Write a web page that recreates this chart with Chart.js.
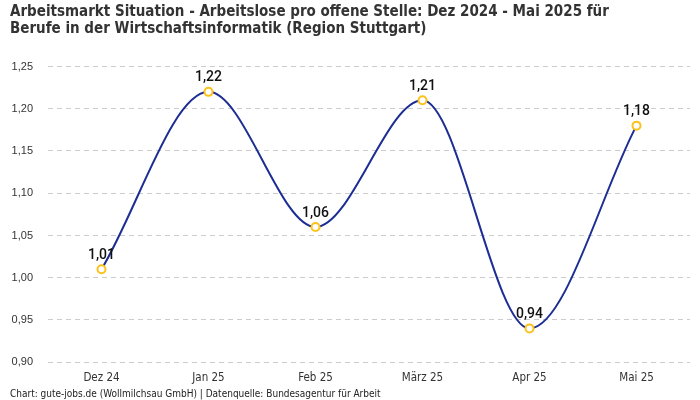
<!DOCTYPE html>
<html>
<head>
<meta charset="utf-8">
<script src="https://cdn.jsdelivr.net/npm/chart.js@4.4.1/dist/chart.umd.min.js"></script>
<style>
	html, body { margin: 0; padding: 0; background: #fff; }
	#wrap { width: 700px; height: 400px; }
</style>
</head>
<body>
<div id="wrap"><canvas id="chart"></canvas></div>
<script>
var months = ['Dez 24', 'Jan 25', 'Feb 25', 'März 25', 'Apr 25', 'Mai 25'];
var ratio = [1.01, 1.22, 1.06, 1.21, 0.94, 1.18];
var titleLines = [
	'Arbeitsmarkt Situation - Arbeitslose pro offene Stelle: Dez 2024 - Mai 2025 für',
	'Berufe in der Wirtschaftsinformatik (Region Stuttgart)'
];
var sourceText = 'Chart: gute-jobs.de (Wollmilchsau GmbH) | Datenquelle: Bundesagentur für Arbeit';

var condensed = '"DejaVu Sans Condensed", sans-serif';

function de(v) {
	return v.toFixed(2).replace('.', ',');
}

// draw the value above every point
var valueLabels = {
	id: 'valueLabels',
	afterDatasetsDraw: function(chart) {
		var ctx = chart.ctx;
		var meta = chart.getDatasetMeta(0);
		ctx.save();
		ctx.font = '500 14px "Roboto", sans-serif';
		ctx.fillStyle = '#111';
		ctx.textAlign = 'center';
		ctx.textBaseline = 'bottom';
		meta.data.forEach(function(pt, i) {
			ctx.fillText(de(ratio[i]), pt.x, pt.y - 7);
		});
		ctx.restore();
	}
};

new Chart(document.getElementById('chart'), {
	type: 'line',
	data: {
		labels: months,
		datasets: [{
			data: ratio,
			borderColor: '#1c2d94',
			borderWidth: 2,
			cubicInterpolationMode: 'monotone',
			pointRadius: 4,
			pointBorderWidth: 2,
			pointBorderColor: '#fcc21b',
			pointBackgroundColor: '#ffffff',
			clip: false
		}]
	},
	options: {
		responsive: true,
		maintainAspectRatio: false,
		animation: false,
		layout: { padding: { left: 10, right: 10, top: 3, bottom: 0 } },
		plugins: {
			legend: { display: false },
			tooltip: { enabled: false },
			title: {
				display: true,
				text: titleLines,
				align: 'start',
				color: '#333',
				font: { family: condensed, size: 15, weight: 'bold', lineHeight: 1.15 },
				padding: { top: 0, bottom: 29 }
			},
			subtitle: {
				display: true,
				position: 'bottom',
				text: sourceText,
				align: 'start',
				color: '#222',
				font: { family: condensed, size: 10 },
				padding: { top: 2, bottom: 0 }
			}
		},
		scales: {
			x: {
				offset: true,
				grid: { display: false },
				border: { display: false },
				ticks: { color: '#333', font: { family: condensed, size: 11.5 }, padding: 1 }
			},
			y: {
				min: 0.9,
				max: 1.25,
				afterFit: function(scale) { scale.width = 38; },
				grid: { color: '#cccccc', tickLength: 0 },
				border: { display: false, dash: [5, 4] },
				ticks: {
					stepSize: 0.05,
					color: '#333',
					padding: 15,
					font: { family: '"Liberation Sans", Arial, sans-serif', size: 11 },
					callback: function(v) { return de(v); }
				}
			}
		}
	},
	plugins: [valueLabels]
});
</script>
</body>
</html>
